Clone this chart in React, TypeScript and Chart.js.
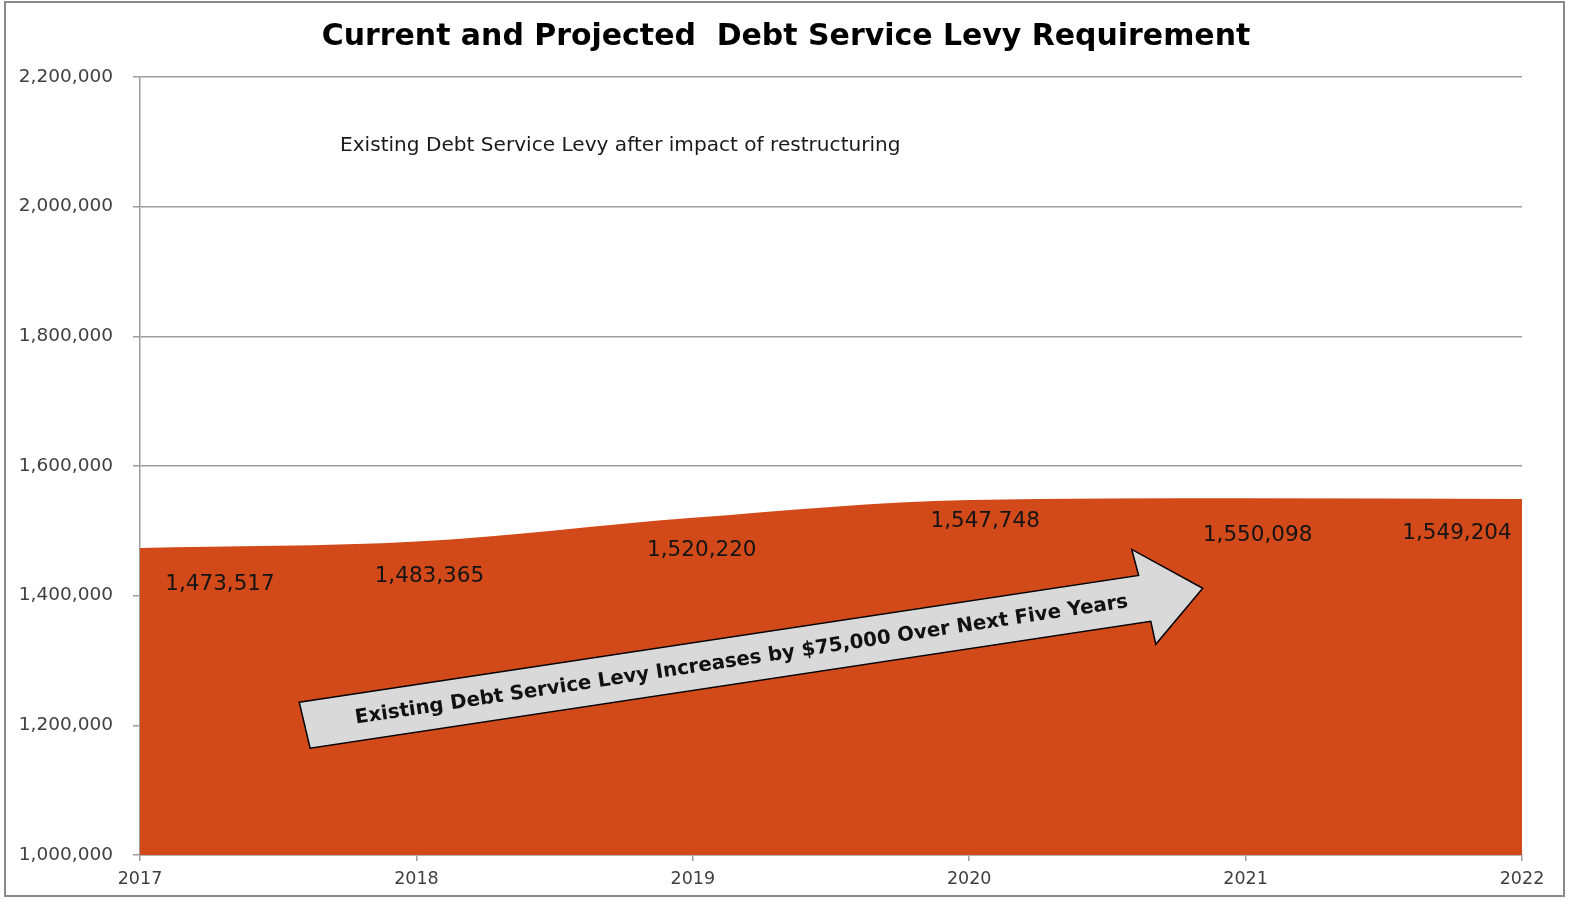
import React, { useEffect, useRef } from 'react';
import { Chart, registerables } from 'chart.js';

Chart.register(...registerables);

// ---------- data ----------
const years: string[] = ['2017', '2018', '2019', '2020', '2021', '2022'];
const levy: number[] = [1473517, 1483365, 1520220, 1547748, 1550098, 1549204];
const yMin = 1000000;
const yMax = 2200000;
const yStep = 200000;

const titleText = 'Current and Projected  Debt Service Levy Requirement';
const seriesLabel = 'Existing Debt Service Levy after impact of restructuring';
const arrowText = 'Existing Debt Service Levy Increases by $75,000 Over Next Five Years';

// ---------- styling (not data) ----------
const FONT = '"DejaVu Sans", "Open Sans", sans-serif';
const FILL = '#D2491A';
const GRID = '#9c9c9c';
// hand-placed data label offsets (pixels) relative to each point, as in the source
const labelDx = [80, 13, 9, 16, 12, -65];
const labelDy = [36, 35, 33, 22, 37, 34];
// arrow outline in data space: [category index, value]
const arrowShape: [number, number][] = [
  [0.576, 1235700],
  [3.613, 1431300],
  [3.588, 1471400],
  [3.845, 1411300],
  [3.675, 1325000],
  [3.657, 1360400],
  [0.6155, 1164800],
];

const fitSize = (ctx: CanvasRenderingContext2D, text: string, weight: string, target: number) => {
  ctx.font = `${weight} 20px ${FONT}`;
  const w = ctx.measureText(text).width;
  return (20 * target) / w;
};

const overlayPlugin = {
  id: 'overlay',
  afterDatasetsDraw(chart: any) {
    const ctx: CanvasRenderingContext2D = chart.ctx;
    const xs = chart.scales.x;
    const ys = chart.scales.y;
    const meta = chart.getDatasetMeta(0);
    const ca = chart.chartArea;

    ctx.save();
    // data labels
    ctx.fillStyle = '#141414';
    ctx.font = `21.5px ${FONT}`;
    ctx.textAlign = 'center';
    ctx.textBaseline = 'middle';
    meta.data.forEach((pt: any, i: number) => {
      const txt = levy[i].toLocaleString('en-US');
      ctx.fillText(txt, pt.x + labelDx[i], pt.y + labelDy[i]);
    });

    // arrow
    const pts = arrowShape.map(([cx, v]) => [xs.getPixelForValue(cx), ys.getPixelForValue(v)]);
    ctx.beginPath();
    pts.forEach(([px, py], i) => (i === 0 ? ctx.moveTo(px, py) : ctx.lineTo(px, py)));
    ctx.closePath();
    ctx.fillStyle = '#D9D9D9';
    ctx.fill();
    ctx.lineWidth = 1.5;
    ctx.strokeStyle = '#000';
    ctx.stroke();

    // arrow text along shaft midline
    const tail = [(pts[0][0] + pts[6][0]) / 2, (pts[0][1] + pts[6][1]) / 2];
    const head = [(pts[1][0] + pts[5][0]) / 2, (pts[1][1] + pts[5][1]) / 2];
    const ang = Math.atan2(head[1] - tail[1], head[0] - tail[0]);
    const len = Math.hypot(head[0] - tail[0], head[1] - tail[1]);
    const size = fitSize(ctx, arrowText, 'bold', len * 0.92);
    ctx.save();
    ctx.translate(tail[0] + (head[0] - tail[0]) * 0.52, tail[1] + (head[1] - tail[1]) * 0.52);
    ctx.rotate(ang);
    ctx.font = `bold ${size}px ${FONT}`;
    ctx.fillStyle = '#111';
    ctx.textAlign = 'center';
    ctx.textBaseline = 'middle';
    ctx.fillText(arrowText, 0, 1);
    ctx.restore();

    // legend-like series label inside plot
    const lsize = fitSize(ctx, seriesLabel, 'normal', 561);
    ctx.font = `normal ${lsize}px ${FONT}`;
    ctx.fillStyle = '#1a1a1a';
    ctx.textAlign = 'left';
    ctx.textBaseline = 'middle';
    ctx.fillText(seriesLabel, ca.left + 200, ca.top + 69);

    // title
    const tsize = fitSize(ctx, titleText, 'bold', 929);
    ctx.font = `bold ${tsize}px ${FONT}`;
    ctx.fillStyle = '#000';
    ctx.textAlign = 'center';
    ctx.textBaseline = 'middle';
    ctx.fillText(titleText, 786, 37);
    ctx.restore();
  },
};

export default function App() {
  const canvasRef = useRef<HTMLCanvasElement | null>(null);

  useEffect(() => {
    document.body.style.margin = '0';
    const canvas = canvasRef.current;
    if (!canvas) return;
    const chart = new Chart(canvas, {
      type: 'line',
      data: {
        labels: years,
        datasets: [
          {
            label: seriesLabel,
            data: levy,
            fill: 'start',
            backgroundColor: FILL,
            borderColor: FILL,
            borderWidth: 0,
            pointRadius: 0,
            cubicInterpolationMode: 'monotone',
          },
        ],
      },
      options: {
        animation: false,
        responsive: false,
        maintainAspectRatio: false,
        layout: { padding: { left: 0, right: 48, top: 77, bottom: 0 } },
        plugins: {
          legend: { display: false },
          title: { display: false },
          tooltip: { enabled: false },
        },
        scales: {
          x: {
            type: 'category',
            offset: false,
            grid: {
              display: true,
              drawOnChartArea: false,
              drawTicks: true,
              tickLength: 6,
              color: GRID,
              lineWidth: 1.5,
            },
            border: { display: true, color: GRID, width: 1.5 },
            ticks: {
              color: '#404040',
              font: { family: FONT, size: 17.5 },
              padding: 8,
              maxRotation: 0,
              autoSkip: false,
            },
            afterFit: (s: any) => {
              s.height = 47;
            },
          },
          y: {
            min: yMin,
            max: yMax,
            grid: {
              color: GRID,
              lineWidth: 1.5,
              drawTicks: true,
              tickLength: 7,
            },
            border: { display: true, color: GRID, width: 1.5 },
            ticks: {
              stepSize: yStep,
              color: '#404040',
              font: { family: FONT, size: 18.5 },
              padding: 20,
              callback: (v: any) => Number(v).toLocaleString('en-US'),
            },
            afterFit: (s: any) => {
              s.width = 140;
            },
          },
        },
      },
      plugins: [overlayPlugin],
    });
    return () => chart.destroy();
  }, []);

  return (
    <div style={{ position: 'relative', width: 1570, height: 902, background: '#fff' }}>
      <canvas ref={canvasRef} width={1570} height={902} style={{ position: 'absolute', left: 0, top: 0 }} />
      <div
        style={{
          position: 'absolute',
          left: 4,
          top: 1,
          width: 1561,
          height: 896,
          border: '2px solid #8a8a8a',
          pointerEvents: 'none',
          boxSizing: 'border-box',
        }}
      />
    </div>
  );
}
